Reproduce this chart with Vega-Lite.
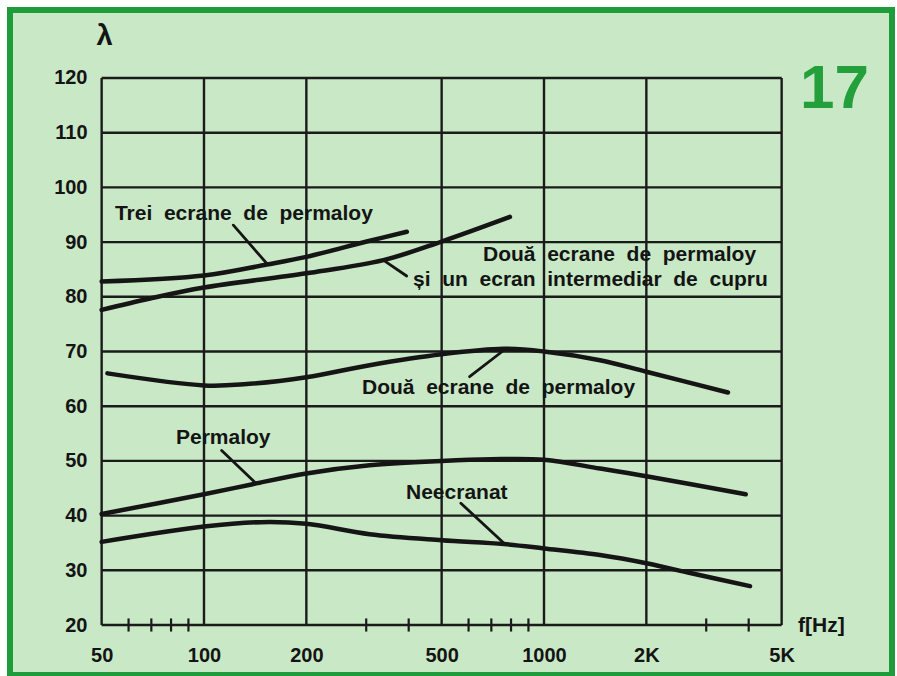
{
  "$schema": "https://vega.github.io/schema/vega-lite/v6.json",
  "width": 882,
  "height": 665,
  "autosize": {"type": "none"},
  "padding": {"left": 10, "top": 10, "right": 5, "bottom": 1},
  "background": "#ffffff",
  "config": {
    "view": {"stroke": "#1e9b3a", "strokeWidth": 6, "fill": "#c9e8c6"},
    "text": {"font": "Liberation Sans", "fontWeight": "bold", "fontSize": 21, "color": "#141414"}
  },
  "datasets": {
    "hgrid": [{"v": 20}, {"v": 30}, {"v": 40}, {"v": 50}, {"v": 60}, {"v": 70}, {"v": 80}, {"v": 90}, {"v": 100}, {"v": 110}, {"v": 120}],
    "vgrid": [{"f": 50}, {"f": 100}, {"f": 200}, {"f": 500}, {"f": 1000}, {"f": 2000}, {"f": 5000}],
    "minor": [{"f": 60}, {"f": 70}, {"f": 80}, {"f": 90}, {"f": 300}, {"f": 400}, {"f": 600}, {"f": 700}, {"f": 800}, {"f": 900}, {"f": 3000}, {"f": 4000}],
    "curves": [
      {"series": "Trei ecrane", "f": 50, "v": 82.8},
      {"series": "Trei ecrane", "f": 100, "v": 83.9},
      {"series": "Trei ecrane", "f": 153, "v": 85.9},
      {"series": "Trei ecrane", "f": 200, "v": 87.3},
      {"series": "Trei ecrane", "f": 301, "v": 90.1},
      {"series": "Trei ecrane", "f": 395, "v": 91.9},
      {"series": "Doua cupru", "f": 50, "v": 77.6},
      {"series": "Doua cupru", "f": 69.4, "v": 79.7},
      {"series": "Doua cupru", "f": 100, "v": 81.7},
      {"series": "Doua cupru", "f": 200, "v": 84.3},
      {"series": "Doua cupru", "f": 337, "v": 86.7},
      {"series": "Doua cupru", "f": 500, "v": 90.1},
      {"series": "Doua cupru", "f": 794, "v": 94.6},
      {"series": "Doua ecrane", "f": 52, "v": 66.0},
      {"series": "Doua ecrane", "f": 100, "v": 63.8},
      {"series": "Doua ecrane", "f": 131, "v": 64.0},
      {"series": "Doua ecrane", "f": 200, "v": 65.3},
      {"series": "Doua ecrane", "f": 307, "v": 67.5},
      {"series": "Doua ecrane", "f": 500, "v": 69.5},
      {"series": "Doua ecrane", "f": 762, "v": 70.5},
      {"series": "Doua ecrane", "f": 1000, "v": 70.0},
      {"series": "Doua ecrane", "f": 1461, "v": 68.4},
      {"series": "Doua ecrane", "f": 2000, "v": 66.3},
      {"series": "Doua ecrane", "f": 3476, "v": 62.5},
      {"series": "Permaloy", "f": 50, "v": 40.3},
      {"series": "Permaloy", "f": 100, "v": 43.9},
      {"series": "Permaloy", "f": 138, "v": 45.7},
      {"series": "Permaloy", "f": 200, "v": 47.7},
      {"series": "Permaloy", "f": 307, "v": 49.2},
      {"series": "Permaloy", "f": 500, "v": 50.0},
      {"series": "Permaloy", "f": 700, "v": 50.3},
      {"series": "Permaloy", "f": 1000, "v": 50.2},
      {"series": "Permaloy", "f": 1461, "v": 48.6},
      {"series": "Permaloy", "f": 2000, "v": 47.2},
      {"series": "Permaloy", "f": 3920, "v": 43.9},
      {"series": "Neecranat", "f": 50, "v": 35.2},
      {"series": "Neecranat", "f": 100, "v": 38.0},
      {"series": "Neecranat", "f": 147, "v": 38.8},
      {"series": "Neecranat", "f": 200, "v": 38.5},
      {"series": "Neecranat", "f": 307, "v": 36.6},
      {"series": "Neecranat", "f": 500, "v": 35.5},
      {"series": "Neecranat", "f": 762, "v": 34.8},
      {"series": "Neecranat", "f": 1000, "v": 34.0},
      {"series": "Neecranat", "f": 1461, "v": 32.8},
      {"series": "Neecranat", "f": 2000, "v": 31.3},
      {"series": "Neecranat", "f": 2712, "v": 29.45},
      {"series": "Neecranat", "f": 4036, "v": 27.1}
    ],
    "labels": [
      {"text": "Trei \u00a0ecrane \u00a0de \u00a0permaloy", "f": 54.7, "v": 94.0},
      {"text": "Două \u00a0ecrane \u00a0de \u00a0permaloy", "f": 661.6, "v": 86.6},
      {"text": "și \u00a0un \u00a0ecran \u00a0intermediar \u00a0de \u00a0cupru", "f": 411.9, "v": 81.9},
      {"text": "Două \u00a0ecrane \u00a0de \u00a0permaloy", "f": 291.5, "v": 62.2},
      {"text": "Permaloy", "f": 82.7, "v": 53.1},
      {"text": "Neecranat", "f": 392.8, "v": 43.0}
    ],
    "leaders": [
      {"f": 122.0, "v": 93.1, "f2": 152.9, "v2": 86.1},
      {"f": 394.6, "v": 83.8, "f2": 336.9, "v2": 86.7},
      {"f": 604.2, "v": 65.4, "f2": 753.6, "v2": 70.0},
      {"f": 112.7, "v": 51.9, "f2": 140.6, "v2": 46.2},
      {"f": 569.6, "v": 42.25, "f2": 764.1, "v2": 34.9}
    ]
  },
  "layer": [
    {
      "data": {"name": "hgrid"},
      "mark": {"type": "rule", "color": "#1b1b1b", "strokeWidth": 2.4},
      "encoding": {
        "y": {"field": "v", "type": "quantitative", "scale": {"domain": [10.86, 132.43], "nice": false, "zero": false}},
        "x": {"datum": 50, "type": "quantitative", "scale": {"type": "log", "domain": [26.88, 10557], "nice": false}},
        "x2": {"datum": 5000}
      }
    },
    {
      "data": {"name": "vgrid"},
      "mark": {"type": "rule", "color": "#1b1b1b", "strokeWidth": 2.4},
      "encoding": {
        "x": {"field": "f", "type": "quantitative", "scale": {"type": "log", "domain": [26.88, 10557], "nice": false}},
        "y": {"datum": 20, "type": "quantitative", "scale": {"domain": [10.86, 132.43], "nice": false, "zero": false}},
        "y2": {"datum": 120}
      }
    },
    {
      "data": {"name": "minor"},
      "mark": {"type": "rule", "color": "#1b1b1b", "strokeWidth": 2.2},
      "encoding": {
        "x": {"field": "f", "type": "quantitative", "scale": {"type": "log", "domain": [26.88, 10557], "nice": false}},
        "y": {"datum": 18.8, "type": "quantitative", "scale": {"domain": [10.86, 132.43], "nice": false, "zero": false}},
        "y2": {"datum": 21.2}
      }
    },
    {
      "data": {"name": "curves"},
      "mark": {"type": "line", "interpolate": "catmull-rom", "strokeWidth": 4.5, "color": "#151515", "strokeCap": "round"},
      "encoding": {
        "x": {
          "field": "f", "type": "quantitative",
          "scale": {"type": "log", "domain": [26.88, 10557], "nice": false},
          "axis": {
            "values": [50, 100, 200, 500, 1000, 2000, 5000],
            "format": "d",
            "labelExpr": "datum.value >= 2000 ? (datum.value / 1000) + 'K' : datum.label",
            "offset": -50, "domain": false, "ticks": false, "grid": false,
            "labelPadding": 20, "labelFontSize": 20, "labelFont": "Liberation Sans", "labelFontWeight": "bold",
            "labelColor": "#141414", "labelOverlap": false, "labelFlush": false, "labelBound": false, "title": null
          }
        },
        "y": {
          "field": "v", "type": "quantitative",
          "scale": {"domain": [10.86, 132.43], "nice": false, "zero": false},
          "axis": {
            "values": [20, 30, 40, 50, 60, 70, 80, 90, 100, 110, 120],
            "offset": -92, "domain": false, "ticks": false, "grid": false,
            "labelPadding": 15, "labelFontSize": 20, "labelFont": "Liberation Sans", "labelFontWeight": "bold",
            "labelColor": "#141414", "labelOverlap": false, "labelFlush": false, "labelBound": false, "title": null
          }
        },
        "detail": {"field": "series"}
      }
    },
    {
      "data": {"name": "leaders"},
      "mark": {"type": "rule", "color": "#151515", "strokeWidth": 2.8, "strokeCap": "round"},
      "encoding": {
        "x": {"field": "f", "type": "quantitative", "scale": {"type": "log", "domain": [26.88, 10557], "nice": false}},
        "y": {"field": "v", "type": "quantitative", "scale": {"domain": [10.86, 132.43], "nice": false, "zero": false}},
        "x2": {"field": "f2"},
        "y2": {"field": "v2"}
      }
    },
    {
      "data": {"name": "labels"},
      "mark": {"type": "text", "align": "left", "baseline": "alphabetic"},
      "encoding": {
        "x": {"field": "f", "type": "quantitative", "scale": {"type": "log", "domain": [26.88, 10557], "nice": false}},
        "y": {"field": "v", "type": "quantitative", "scale": {"domain": [10.86, 132.43], "nice": false, "zero": false}},
        "text": {"field": "text"}
      }
    },
    {
      "data": {"values": [{"t": "λ"}]},
      "mark": {"type": "text", "align": "center", "baseline": "alphabetic", "fontSize": 29},
      "encoding": {
        "x": {"datum": 51, "type": "quantitative", "scale": {"type": "log", "domain": [26.88, 10557], "nice": false}},
        "y": {"datum": 126.0, "type": "quantitative", "scale": {"domain": [10.86, 132.43], "nice": false, "zero": false}},
        "text": {"field": "t"}
      }
    },
    {
      "data": {"values": [{"t": "f[Hz]"}]},
      "mark": {"type": "text", "align": "left", "baseline": "alphabetic", "fontSize": 21},
      "encoding": {
        "x": {"datum": 5585, "type": "quantitative", "scale": {"type": "log", "domain": [26.88, 10557], "nice": false}},
        "y": {"datum": 18.7, "type": "quantitative", "scale": {"domain": [10.86, 132.43], "nice": false, "zero": false}},
        "text": {"field": "t"}
      }
    },
    {
      "data": {"values": [{"t": "17"}]},
      "mark": {"type": "text", "align": "center", "baseline": "alphabetic", "fontSize": 62, "color": "#23a03c"},
      "encoding": {
        "x": {"datum": 7150, "type": "quantitative", "scale": {"type": "log", "domain": [26.88, 10557], "nice": false}},
        "y": {"datum": 114.5, "type": "quantitative", "scale": {"domain": [10.86, 132.43], "nice": false, "zero": false}},
        "text": {"field": "t"}
      }
    }
  ]
}
